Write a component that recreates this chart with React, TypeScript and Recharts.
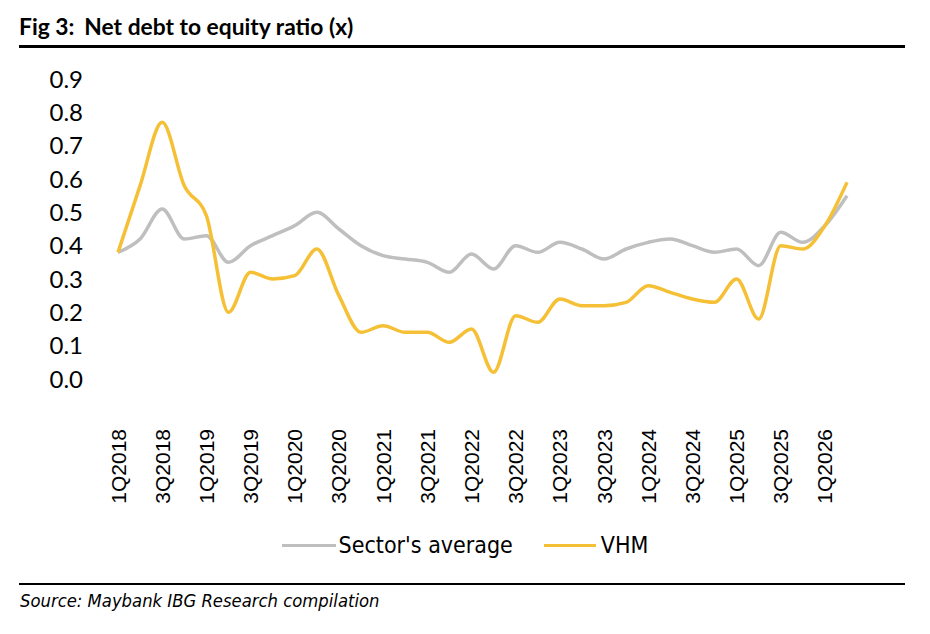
import React from 'react';
import { LineChart, Line, XAxis, YAxis, Legend } from 'recharts';

const quarters = [
  '1Q2018', '2Q2018', '3Q2018', '4Q2018',
  '1Q2019', '2Q2019', '3Q2019', '4Q2019',
  '1Q2020', '2Q2020', '3Q2020', '4Q2020',
  '1Q2021', '2Q2021', '3Q2021', '4Q2021',
  '1Q2022', '2Q2022', '3Q2022', '4Q2022',
  '1Q2023', '2Q2023', '3Q2023', '4Q2023',
  '1Q2024', '2Q2024', '3Q2024', '4Q2024',
  '1Q2025', '2Q2025', '3Q2025', '4Q2025',
  '1Q2026', '2Q2026',
];

const sectorAvg = [
  0.38, 0.42, 0.51, 0.42, 0.43, 0.35, 0.40, 0.43,
  0.46, 0.50, 0.45, 0.40, 0.37, 0.36, 0.35, 0.32,
  0.375, 0.33, 0.40, 0.38, 0.41, 0.39, 0.36, 0.39,
  0.41, 0.42, 0.40, 0.38, 0.39, 0.34, 0.44, 0.41,
  0.46, 0.55,
];

const vhm = [
  0.38, 0.58, 0.77, 0.58, 0.49, 0.20, 0.32, 0.30,
  0.31, 0.39, 0.25, 0.14, 0.16, 0.14, 0.14, 0.11,
  0.15, 0.02, 0.19, 0.17, 0.24, 0.22, 0.22, 0.23,
  0.28, 0.26, 0.24, 0.23, 0.30, 0.18, 0.40, 0.39,
  0.46, 0.59,
];

const yTicks = [0, 0.1, 0.2, 0.3, 0.4, 0.5, 0.6, 0.7, 0.8, 0.9];

const data = quarters.map((q, i) => ({ q, sector: sectorAvg[i], vhm: vhm[i] }));

const GREY = '#BFBFBF';
const GOLD = '#F5C035';

const QuarterTick = (props: any) => {
  const { x, y, payload } = props;
  return (
    <text
      transform={`translate(${x},${y + 48}) rotate(-90)`}
      textAnchor="end"
      dy="0.36em"
      fontSize={21}
      fontFamily="'Liberation Sans', Arial, sans-serif"
      fill="#000"
    >
      {payload.value}
    </text>
  );
};

const LegendBox = () => (
  <div
    style={{
      height: 36,
      display: 'flex',
      justifyContent: 'center',
      alignItems: 'center',
      fontFamily: "'DejaVu Sans Condensed', 'DejaVu Sans', sans-serif",
      fontStretch: 'condensed',
      fontSize: 23,
      color: '#000',
    }}
  >
    <span style={{ display: 'inline-block', width: 54, height: 3, background: GREY, marginRight: 3 }} />
    <span>Sector's average</span>
    <span style={{ display: 'inline-block', width: 52, height: 3, background: GOLD, marginLeft: 31, marginRight: 5 }} />
    <span>VHM</span>
  </div>
);

export default function App() {
  return (
    <div style={{ position: 'absolute', left: 0, top: 0, width: 930, height: 634, background: '#fff' }}>
      <div
        style={{
          position: 'absolute',
          left: 19,
          top: 13,
          fontFamily: 'Lato, sans-serif',
          fontWeight: 700,
          fontSize: 22.8,
          lineHeight: '26px',
          color: '#000',
          whiteSpace: 'nowrap',
        }}
      >
        Fig 3:<span style={{ marginLeft: 10 }}>Net debt to equity ratio (x)</span>
      </div>
      <div style={{ position: 'absolute', left: 19, top: 45, width: 886, height: 3, background: '#000' }} />

      <div style={{ position: 'absolute', left: 0, top: 0 }}>
        <LineChart width={930} height={634} data={data} margin={{ top: 79, right: 83, bottom: 71, left: 0 }}>
          <XAxis
            dataKey="q"
            interval={1}
            axisLine={false}
            tickLine={false}
            tickSize={0}
            height={148}
            tick={<QuarterTick />}
          />
          <YAxis
            domain={[0, 0.9]}
            ticks={yTicks}
            width={118}
            axisLine={false}
            tickLine={false}
            tickSize={0}
            tickMargin={35}
            tickFormatter={(v: number) => v.toFixed(1)}
            tick={{ fontSize: 24, fontFamily: 'Lato, sans-serif', fill: '#000' }}
          />
          <Legend
            verticalAlign="bottom"
            height={36}
            content={<LegendBox />}
            wrapperStyle={{ left: 0, width: 930 }}
          />
          <Line
            type="monotone"
            dataKey="sector"
            name="Sector's average"
            stroke={GREY}
            strokeWidth={3.5}
            dot={false}
            isAnimationActive={false}
          />
          <Line
            type="monotone"
            dataKey="vhm"
            name="VHM"
            stroke={GOLD}
            strokeWidth={3.5}
            dot={false}
            isAnimationActive={false}
          />
        </LineChart>
      </div>

      <div style={{ position: 'absolute', left: 19, top: 583, width: 886, height: 2, background: '#000' }} />
      <div
        style={{
          position: 'absolute',
          left: 20,
          top: 590,
          fontFamily: "'DejaVu Sans Condensed', 'DejaVu Sans', sans-serif",
          fontStretch: 'condensed',
          fontStyle: 'italic',
          fontSize: 18.3,
          lineHeight: '22px',
          color: '#000',
          whiteSpace: 'nowrap',
        }}
      >
        Source: Maybank IBG Research compilation
      </div>
    </div>
  );
}
